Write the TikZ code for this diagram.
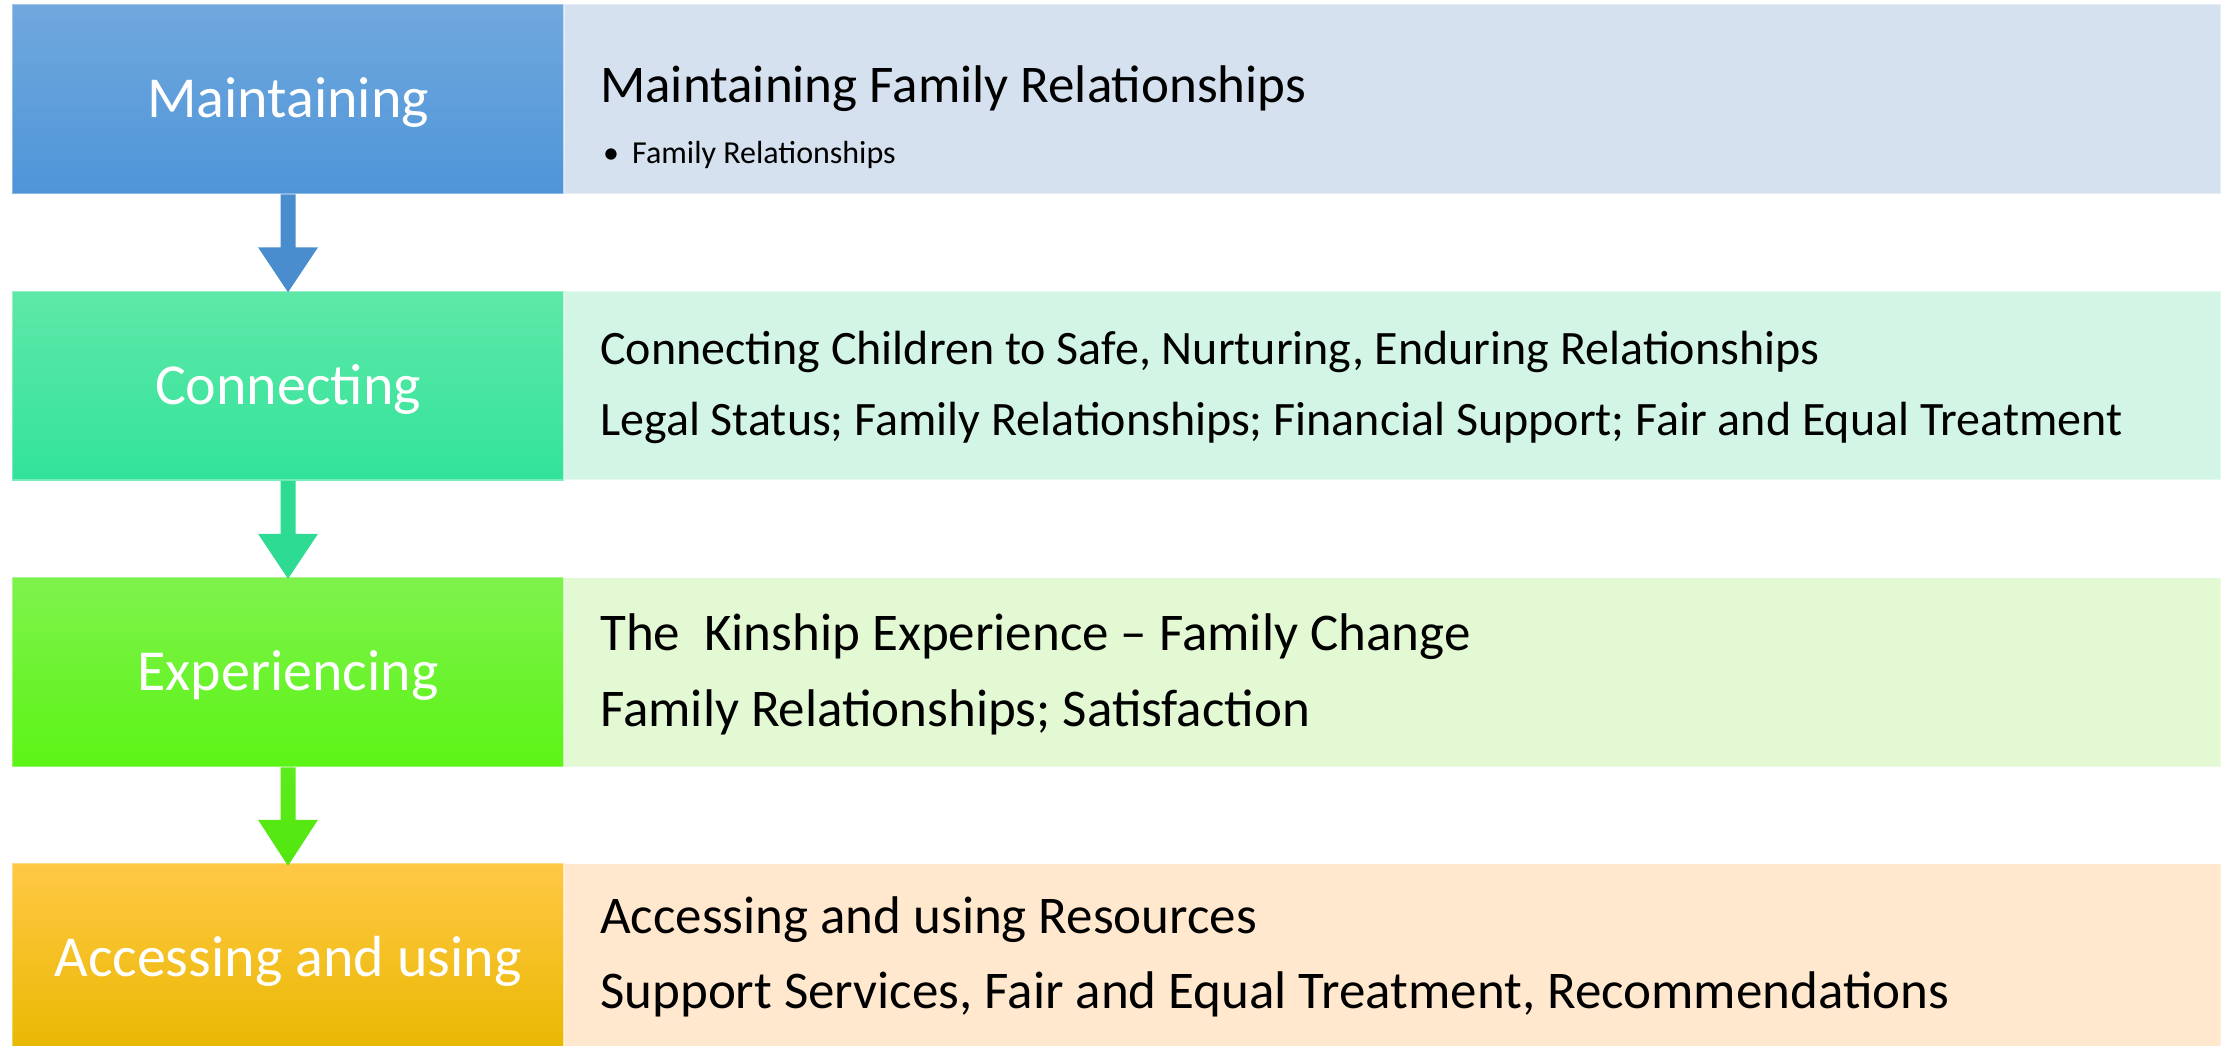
\documentclass[tikz,border=0pt]{standalone}
\usepackage{fontspec}
\setmainfont{Carlito}
\usetikzlibrary{calc}
\definecolor{bTop}{HTML}{70A8DD}
\definecolor{bBot}{HTML}{4E95D8}
\definecolor{bArr}{HTML}{4A8DCE}
\definecolor{bLight}{HTML}{D5E1EF}
\definecolor{gTop}{HTML}{5EE8A8}
\definecolor{gBot}{HTML}{32E39A}
\definecolor{gArr}{HTML}{2DDB92}
\definecolor{gLight}{HTML}{D3F5E5}
\definecolor{lTop}{HTML}{7EF24C}
\definecolor{lBot}{HTML}{5CF416}
\definecolor{lArrTop}{HTML}{5DEB1C}
\definecolor{lArrBot}{HTML}{52E60E}
\definecolor{lLight}{HTML}{E3F9D3}
\definecolor{oTop}{HTML}{FFC845}
\definecolor{oBot}{HTML}{E9B800}
\definecolor{oLight}{HTML}{FFE8CE}
\tikzset{
  leftbox/.style={rectangle, inner sep=0pt, minimum width=552pt, minimum height=189pt,
    draw=white, draw opacity=0.35, line width=1.5pt, text=white,
    font=\fontsize{58}{70}\selectfont, text height=37pt, text depth=0pt},
  rightbox/.style={rectangle, inner sep=0pt, minimum width=1657pt, minimum height=189pt,
    draw=white, draw opacity=0.4, line width=1.5pt},
  bigtext/.style={anchor=base west, inner sep=0pt, font=\fontsize{53}{64}\selectfont, text=black},
  midtext/.style={anchor=base west, inner sep=0pt, font=\fontsize{48}{58}\selectfont, text=black},
  smalltext/.style={anchor=base west, inner sep=0pt, font=\fontsize{32}{38}\selectfont, text=black}
}
\begin{document}
\begin{tikzpicture}[x=1pt,y=-1pt]
\useasboundingbox (0,0) rectangle (2233,1046);
\fill[white] (0,0) rectangle (2233,1046);
% row 1
\node[leftbox, top color=bTop, bottom color=bBot] (m) at (288,99) {Maintaining};
\node[rightbox, fill=bLight] (mr) at (1392.5,99) {};
\node[bigtext] (mt1) at (600,103) {Maintaining Family Relationships};
\node[smalltext] (mt2) at (603,164) {\makebox[29pt][l]{•}Family Relationships};
% row 2
\node[leftbox, top color=gTop, bottom color=gBot] (c) at (288,385.5) {Connecting};
\node[rightbox, fill=gLight] (cr) at (1392.5,385.5) {};
\node[midtext] (ct1) at (600,364) {Connecting Children to Safe, Nurturing, Enduring Relationships};
\node[midtext] (ct2) at (600,435) {Legal Status; Family Relationships; Financial Support; Fair and Equal Treatment};
% row 3
\node[leftbox, top color=lTop, bottom color=lBot] (e) at (288,672) {Experiencing};
\node[rightbox, fill=lLight] (er) at (1392.5,672) {};
\node[bigtext] (et1) at (600,650) {The~ Kinship Experience – Family Change};
\node[bigtext] (et2) at (600,726) {Family Relationships; Satisfaction};
% row 4
\node[leftbox, top color=oTop, bottom color=oBot] (a) at (288,958) {Accessing and using};
\node[rightbox, fill=oLight] (ar) at (1392.5,958) {};
\node[bigtext] (at1) at (600,933) {Accessing and using Resources};
\node[bigtext] (at2) at (600,1008) {Support Services, Fair and Equal Treatment, Recommendations};
% arrows
\fill[bArr] ($(m.south)+(-7.5,0)$) -- ($(c.north)+(-7.5,-43)$) -- ($(c.north)+(-30,-43)$) -- ($(c.north)+(0,2)$)
  -- ($(c.north)+(30,-43)$) -- ($(c.north)+(7.5,-43)$) -- ($(m.south)+(7.5,0)$) -- cycle;
\fill[gArr] ($(c.south)+(-7.5,0)$) -- ($(e.north)+(-7.5,-43)$) -- ($(e.north)+(-30,-43)$) -- ($(e.north)+(0,2)$)
  -- ($(e.north)+(30,-43)$) -- ($(e.north)+(7.5,-43)$) -- ($(c.south)+(7.5,0)$) -- cycle;
\shade[top color=lArrTop, bottom color=lArrBot] ($(e.south)+(-7.5,0)$) -- ($(a.north)+(-7.5,-43)$) -- ($(a.north)+(-30,-43)$) -- ($(a.north)+(0,3)$)
  -- ($(a.north)+(30,-43)$) -- ($(a.north)+(7.5,-43)$) -- ($(e.south)+(7.5,0)$) -- cycle;
\end{tikzpicture}
\end{document}
